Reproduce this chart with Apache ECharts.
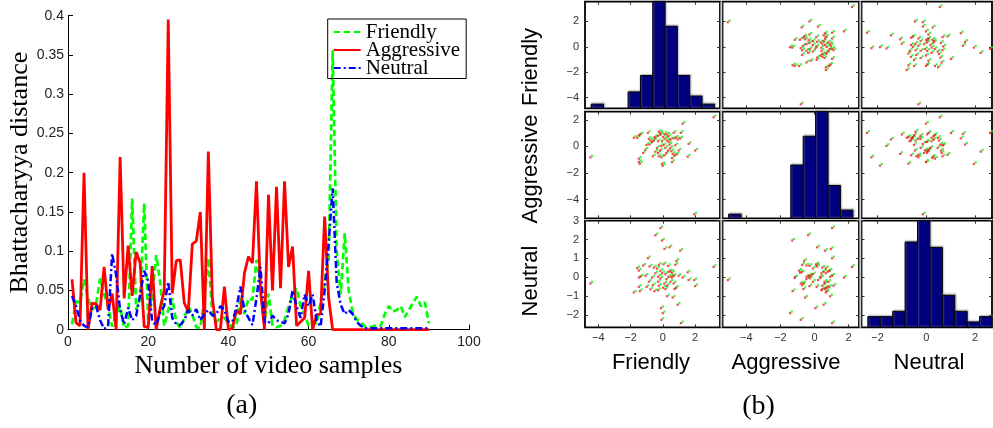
<!DOCTYPE html>
<html>
<head>
<meta charset="utf-8">
<script src="https://cdn.jsdelivr.net/npm/echarts@6/dist/echarts.min.js"></script>
<style>
  html, body { margin: 0; padding: 0; background: #fff; }
  #chart { width: 993px; height: 428px; }
</style>
</head>
<body>
<div id="chart"></div>
<script>
// ---------- (a) Bhattacharyya distance per video sample ----------
const sampleNumbers = Array.from({ length: 90 }, (_, i) => i + 1);

const friendly = [
  0.007, 0.036, 0.035, 0.064, 0.04, 0.025, 0.032, 0.065, 0.045, 0.03,
  0.004, 0.02, 0.03, 0.002, 0.005, 0.167, 0.025, 0.04, 0.161, 0.01,
  0.04, 0.095, 0.06, 0.005, 0.025, 0.04, 0.01, 0.002, 0.015, 0.03,
  0.02, 0.003, 0.002, 0.04, 0.091, 0.02, 0.01, 0.015, 0.015, 0.008,
  0.003, 0.005, 0.04, 0.02, 0.04, 0.038, 0.089, 0.06, 0.01, 0.046,
  0.005, 0.003, 0.005, 0.012, 0.03, 0.044, 0.053, 0.03, 0.02, 0.005,
  0.01, 0.008, 0.035, 0.06, 0.09, 0.356, 0.1, 0.045, 0.123, 0.05,
  0.022, 0.013, 0.01, 0.004, 0.003, 0.004, 0.006, 0.005, 0.02, 0.03,
  0.023, 0.025, 0.03, 0.016, 0.025, 0.034, 0.042, 0.03, 0.035, 0.008
];

const aggressive = [
  0.064, 0.009, 0.005, 0.2, 0, 0.034, 0.033, 0.025, 0.08, 0.026,
  0.046, 0, 0.22, 0.04, 0.107, 0.043, 0.099, 0.085, 0.004, 0.003,
  0.081, 0, 0.028, 0.05, 0.395, 0.046, 0.088, 0.089, 0.034, 0.023,
  0.109, 0.113, 0.15, 0, 0.227, 0.04, 0, 0, 0.055, 0,
  0.002, 0.025, 0.02, 0.072, 0.093, 0.085, 0.189, 0.05, 0, 0.172,
  0.05, 0.182, 0.053, 0.189, 0.08, 0.106, 0.005, 0.01, 0.015, 0.075,
  0, 0.019, 0.02, 0.144, 0.04, 0, 0, 0, 0, 0,
  0, 0, 0, 0, 0, 0, 0, 0, 0, 0,
  0, 0, 0, 0, 0, 0, 0, 0, 0, 0
];

const neutral = [
  0.043, 0.03, 0.012, 0.005, 0.003, 0.027, 0.03, 0.012, 0.001, 0.004,
  0.097, 0.07, 0.025, 0.007, 0.028, 0.012, 0.018, 0.045, 0.075, 0.062,
  0.01, 0.006, 0.022, 0.03, 0.061, 0.015, 0.007, 0.006, 0.012, 0.025,
  0.018, 0.026, 0.012, 0.02, 0.025, 0.018, 0.02, 0.03, 0.025, 0.01,
  0.01, 0.028, 0.055, 0.025, 0.015, 0.006, 0.04, 0.08, 0.01, 0.008,
  0.018, 0.012, 0.01, 0.008, 0.02, 0.05, 0.03, 0.015, 0.045, 0.03,
  0.045, 0.012, 0.004, 0.05, 0.11, 0.18, 0.06, 0.032, 0.02, 0.025,
  0.02, 0.01, 0.005, 0.002, 0.002, 0.002, 0.002, 0.002, 0.002, 0.002,
  0.002, 0.002, 0.002, 0.002, 0.002, 0.002, 0.002, 0.002, 0.002, 0.002
];

// ---------- (b) scatter-plot matrix of the three scores ----------
const scoreNames = ['Friendly', 'Aggressive', 'Neutral'];

const scoreFriendly = [
  -4.45, -1.75, -1.54, -1.44, -1.44, -1.44, -1.38, -1.33, -1.17, -1.03,
  -0.96, -0.88, -0.82, -0.78, -0.72, -0.62, -0.57, -0.51, -0.47, -0.41,
  -0.41, -0.31, -0.25, -0.25, -0.25, -0.2, -0.2, -0.1, -0.1, -0.1,
  -0.06, -0.04, 0, 0, 0.04, 0.06, 0.1, 0.15, 0.15, 0.21,
  0.21, 0.27, 0.31, 0.31, 0.37, 0.41, 0.41, 0.46, 0.52, 0.52,
  0.58, 0.62, 0.62, 0.66, 0.72, 0.72, 0.78, 0.83, 0.86, 0.89,
  0.97, 1.03, 1.13, 1.17, 1.28, 1.59, 1.65, 2.0, 2.06, 3.2
];
const scoreAggressive = [
  -0.76, 0.71, 0.71, 0.91, -0.86, -1.11, -1.24, 0.96, -0.43, -0.18,
  0.17, 1.08, 0.63, 0.2, 0.5, 0.4, -0.68, 0.5, 0.76, 0.71,
  -0.33, -0.05, 0.86, 0.45, -0.43, 1.16, -0.68, 1.08, 0.93, -0.23,
  0.1, -0.76, -1.26, 0.45, -1.39, 0.76, 0.15, -0.61, 1.0, 0.66,
  -0.05, -0.43, 0.5, 0.96, -0.25, 0.4, 0.83, 0.2, 0.58, -0.05,
  -0.3, -0.81, -1.11, -0.5, 0.66, 1.08, -0.61, 0.15, 0.71, -0.56,
  0.58, -0.25, 0.66, 1.08, 1.77, -0.71, 0.25, -5.04, -0.25, 2.25
];
const scoreNeutral = [
  -0.29, -0.77, 0.52, -0.47, 0.39, 0.02, -0.7, 0.07, 0.66, 0.12,
  -0.47, 1.05, -0.2, 0.61, -0.6, 0.02, -0.38, 0.55, -0.7, 0.25,
  2.27, 0.5, -0.2, -0.65, 0.07, -0.41, 0.7, 2.65, 0.38, -0.02,
  -1.6, -2.22, 1.99, 0.25, -1.87, -0.52, 0.73, -0.29, 1.54, -0.59,
  0.2, -0.06, -0.41, -0.97, 0.64, 0.07, 0.34, 1.63, 0.34, -0.2,
  0.07, 0.28, 0.03, -1.04, -0.29, 0.12, -0.59, 0.7, -0.52, 0.91,
  -1.42, 0.12, 1.45, -2.4, 0.02, 0.3, -0.11, -0.11, -0.43, 0.59
];

// histogram counts (10 bins over each score's range)
const histFriendly = [1, 0, 0, 4, 8, 26, 20, 8, 3, 1];
const histAggressive = [1, 0, 0, 0, 0, 13, 20, 26, 8, 2];
const histNeutral = [2, 2, 3, 16, 20, 15, 6, 3, 1, 2];
const histRange = [[-4.45, 3.2], [-5.04, 2.25], [-2.4, 2.7]];

// axis limits and tick values for each score
const xLimits = [[-4.83, 3.55], [-5.4, 2.61], [-2.66, 2.70]];
const yLimits = [[-4.83, 3.55], [-5.4, 2.61], [-2.66, 3.0]];
const xTickValues = [[-4, -2, 0, 2], [-4, -2, 0, 2], [-2, 0, 2]];
const yTickValues = [[-4, -2, 0, 2], [-4, -2, 0, 2], [-2, -1, 0, 1, 2, 3]];

// ---------- layout ----------
const serif = 'Liberation Serif, DejaVu Serif, serif';
const sans = 'Liberation Sans, Arial, sans-serif';
const panelLeft = [585, 722.5, 861.5];
const panelWidth = [135, 136.5, 130.5];
const panelTop = [1.7, 111.7, 220.7];
const panelHeight = [106.6, 106.6, 106.6];

const scores = [scoreFriendly, scoreAggressive, scoreNeutral];
const hists = [histFriendly, histAggressive, histNeutral];
const minus = v => String(v).replace('-', '\u2212');

const grids = [{ left: 68, top: 15.7, width: 401, height: 314, outerBoundsMode: 'none' }];
const xAxes = [{
  gridIndex: 0, type: 'value', min: 0, max: 100, interval: 20,
  name: 'Number of video samples', nameLocation: 'middle', nameGap: 14,
  nameTextStyle: { fontFamily: serif, fontSize: 26, color: '#000' },
  axisLine: { lineStyle: { color: '#000', width: 1 } },
  axisTick: { inside: true, length: 5, lineStyle: { color: '#000' } },
  axisLabel: { fontFamily: sans, fontSize: 14, color: '#222', margin: 5 },
  splitLine: { show: false }
}];
const yAxes = [{
  gridIndex: 0, type: 'value', min: 0, max: 0.4, interval: 0.05,
  name: 'Bhattacharyya distance', nameLocation: 'middle', nameGap: 33,
  nameTextStyle: { fontFamily: serif, fontSize: 26, color: '#000' },
  axisLine: { lineStyle: { color: '#000', width: 1 } },
  axisTick: { inside: true, length: 5, lineStyle: { color: '#000' } },
  axisLabel: { fontFamily: sans, fontSize: 14, color: '#222', margin: 4 },
  splitLine: { show: false }
}];

const series = [
  {
    name: 'Friendly', type: 'line', xAxisIndex: 0, yAxisIndex: 0,
    data: sampleNumbers.map((n, i) => [n, friendly[i]]),
    showSymbol: false, symbol: 'none', clip: false,
    lineStyle: { color: '#00ff00', width: 2.7, type: [6.5, 3.5] },
    itemStyle: { color: '#00ff00' }
  },
  {
    name: 'Aggressive', type: 'line', xAxisIndex: 0, yAxisIndex: 0,
    data: sampleNumbers.map((n, i) => [n, aggressive[i]]),
    showSymbol: false, symbol: 'none', clip: false,
    lineStyle: { color: '#ff0000', width: 2.8, type: 'solid' },
    itemStyle: { color: '#ff0000' }
  },
  {
    name: 'Neutral', type: 'line', xAxisIndex: 0, yAxisIndex: 0,
    data: sampleNumbers.map((n, i) => [n, neutral[i]]),
    showSymbol: false, symbol: 'none', clip: false,
    lineStyle: { color: '#0000ff', width: 2.5, type: [7, 3, 2, 3] },
    itemStyle: { color: '#0000ff' }
  }
];

const tickStyle = { color: '#333', width: 1 };
for (let r = 0; r < 3; r++) {
  for (let c = 0; c < 3; c++) {
    const g = grids.length;
    grids.push({
      left: panelLeft[c], top: panelTop[r], width: panelWidth[c], height: panelHeight[r],
      show: true, backgroundColor: '#fff', borderColor: '#000', borderWidth: 1.8,
      outerBoundsMode: 'none'
    });
    const xi = xAxes.length;
    ['bottom', 'top'].forEach(pos => {
      xAxes.push({
        gridIndex: g, type: 'value', position: pos,
        min: xLimits[c][0], max: xLimits[c][1],
        axisLine: { show: false, onZero: false },
        axisTick: { show: true, inside: true, length: 3, customValues: xTickValues[c], lineStyle: tickStyle },
        axisLabel: {
          show: pos === 'bottom' && r === 2, customValues: xTickValues[c],
          formatter: minus, fontFamily: sans, fontSize: 11, color: '#333', margin: 5
        },
        splitLine: { show: false }
      });
    });
    const yi = yAxes.length;
    ['left', 'right'].forEach(pos => {
      yAxes.push({
        gridIndex: g, type: 'value', position: pos,
        min: yLimits[r][0], max: yLimits[r][1],
        axisLine: { show: false, onZero: false },
        axisTick: { show: true, inside: true, length: 3, customValues: yTickValues[r], lineStyle: tickStyle },
        axisLabel: {
          show: pos === 'left' && c === 0, customValues: yTickValues[r],
          formatter: minus, fontFamily: sans, fontSize: 11, color: '#333', margin: 6
        },
        splitLine: { show: false }
      });
    });

    if (r === c) {
      // histogram of one score
      const counts = hists[r];
      const lo = histRange[r][0], hi = histRange[r][1];
      const w = (hi - lo) / counts.length;
      const ci = yAxes.length;
      yAxes.push({ gridIndex: g, type: 'value', min: 0, max: Math.max(...counts), show: false });
      series.push({
        type: 'custom', coordinateSystem: 'cartesian2d', xAxisIndex: xi, yAxisIndex: ci,
        encode: { x: [0, 1], y: 2 },
        data: counts.map((n, k) => [lo + k * w, lo + (k + 1) * w, n]),
        renderItem: (params, api) => {
          const h = api.value(2);
          if (!h) return null;
          const p0 = api.coord([api.value(0), h]);
          const p1 = api.coord([api.value(1), 0]);
          return {
            type: 'rect',
            shape: { x: p0[0], y: p0[1], width: p1[0] - p0[0], height: p1[1] - p0[1] },
            style: {
              fill: '#000080', stroke: '#000', lineWidth: 1,
              shadowColor: 'rgba(120,120,120,0.6)', shadowBlur: 1.5, shadowOffsetX: 1, shadowOffsetY: -1
            }
          };
        }
      });
    } else {
      // pairwise scatter: column score on x, row score on y
      const pts = scores[c].map((v, i) => [v, scores[r][i]]);
      series.push({
        type: 'scatter', xAxisIndex: xi, yAxisIndex: yi, data: pts,
        symbol: 'rect', symbolSize: 2.2, symbolOffset: [1, -0.8],
        itemStyle: { color: '#22ee22' }, silent: true
      });
      series.push({
        type: 'scatter', xAxisIndex: xi, yAxisIndex: yi, data: pts,
        symbol: 'rect', symbolSize: 2.2, symbolOffset: [-0.8, 0.8],
        itemStyle: { color: '#ee2222' }, silent: true
      });
    }
  }
}

// light separators between the matrix panels
const gapColor = '#cccccc';
const graphics = [
  { type: 'rect', shape: { x: 720.4, y: 1.7, width: 1.8, height: 325.6 }, style: { fill: gapColor } },
  { type: 'rect', shape: { x: 859.4, y: 1.7, width: 1.8, height: 325.6 }, style: { fill: gapColor } },
  { type: 'rect', shape: { x: 585, y: 109.2, width: 407, height: 1.6 }, style: { fill: gapColor } },
  { type: 'rect', shape: { x: 585, y: 219.1, width: 407, height: 0.9 }, style: { fill: gapColor } }
];
const rowLabelY = [67, 169, 281];
const colLabelX = [651, 786, 929];
scoreNames.forEach((s, k) => {
  graphics.push({
    type: 'text', x: 530.5, y: rowLabelY[k], rotation: Math.PI / 2,
    style: { text: s, fontFamily: sans, fontSize: 22, fill: '#000', align: 'center', verticalAlign: 'middle' }
  });
  graphics.push({
    type: 'text', x: colLabelX[k], y: 363.4,
    style: { text: s, fontFamily: sans, fontSize: 22, fill: '#000', align: 'center', verticalAlign: 'middle' }
  });
});
graphics.push({
  type: 'text', x: 241.7, y: 406,
  style: { text: '(a)', fontFamily: serif, fontSize: 28, fill: '#000', align: 'center', verticalAlign: 'middle' }
});
graphics.push({
  type: 'text', x: 758.5, y: 406.5,
  style: { text: '(b)', fontFamily: serif, fontSize: 28, fill: '#000', align: 'center', verticalAlign: 'middle' }
});

const option = {
  animation: false,
  backgroundColor: '#fff',
  grid: grids,
  xAxis: xAxes,
  yAxis: yAxes,
  legend: {
    data: ['Friendly', 'Aggressive', 'Neutral'],
    orient: 'vertical', left: 327.7, top: 19,
    itemWidth: 27, itemHeight: 10, itemGap: -3,
    padding: [2.5, 6, 0, 5],
    borderColor: '#000', borderWidth: 1,
    selectedMode: false,
    itemStyle: { opacity: 0 },
    textStyle: { fontFamily: serif, fontSize: 21, color: '#000' }
  },
  series: series,
  graphic: { elements: graphics }
};

const chart = echarts.init(document.getElementById('chart'));
chart.setOption(option);
</script>
</body>
</html>
